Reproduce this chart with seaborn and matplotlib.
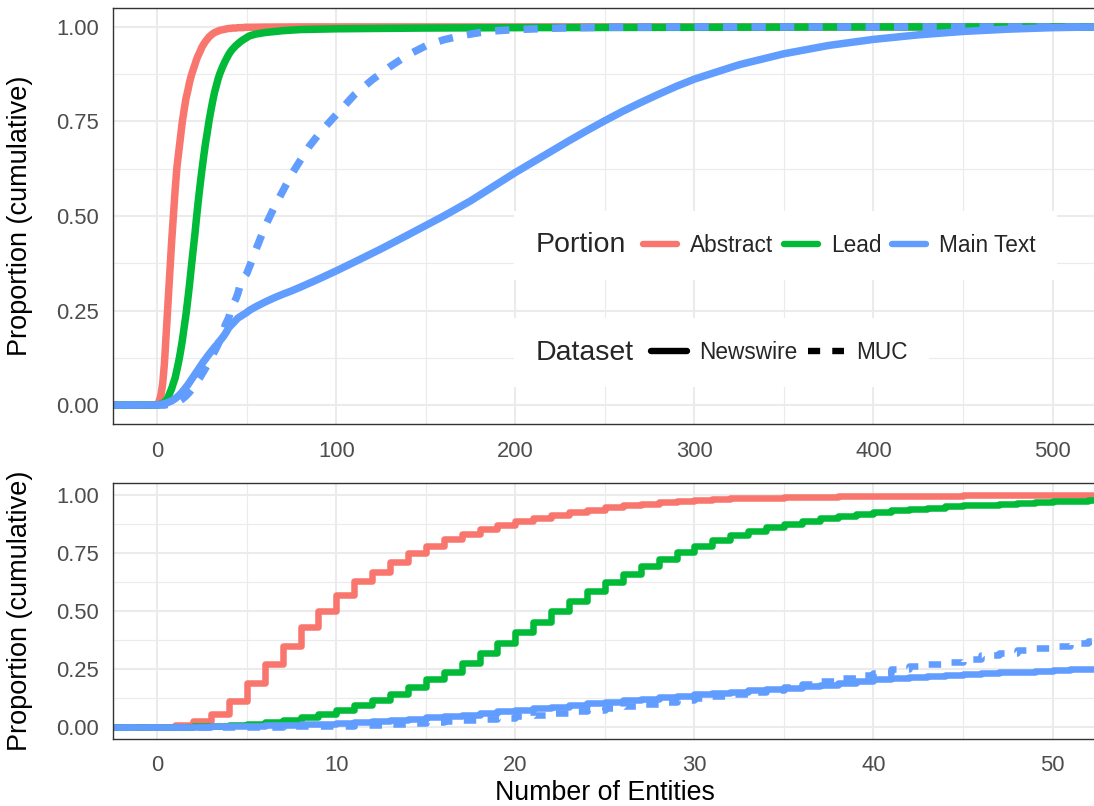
import matplotlib
matplotlib.use("Agg")
import matplotlib.pyplot as plt
import numpy as np
import pandas as pd
import seaborn as sns
from matplotlib.lines import Line2D
from matplotlib.offsetbox import HPacker
from matplotlib.ticker import MultipleLocator, FormatStrFormatter

# ---------------- data (ECDF values) ----------------
portions = ["Abstract", "Lead", "Main Text"]
datasets = ["Newswire", "MUC"]
portion_colors = ["#F8766D", "#00BA38", "#619CFF"]

# integer entity counts 0..52 (dense part shown in the lower panel)
counts = list(range(0, 53))

abstract_newswire = [0.0, 0.01, 0.025, 0.055, 0.11, 0.19, 0.27, 0.35, 0.43, 0.50,
                     0.57, 0.63, 0.67, 0.71, 0.75, 0.78, 0.81, 0.83, 0.853, 0.871,
                     0.886, 0.90, 0.915, 0.926, 0.936, 0.947, 0.955, 0.962, 0.968, 0.974,
                     0.978, 0.982, 0.985, 0.987, 0.989, 0.991, 0.992, 0.993, 0.994, 0.995,
                     0.996, 0.996, 0.997, 0.997, 0.997, 0.998, 0.998, 0.998, 0.998, 0.999,
                     0.999, 0.999, 0.999]
abstract_newswire_tail_x = [60, 80, 600]
abstract_newswire_tail_y = [0.9995, 1.0, 1.0]

lead_newswire = [0.0, 0.001, 0.003, 0.005, 0.008, 0.012, 0.02, 0.032, 0.043, 0.058,
                 0.072, 0.094, 0.116, 0.142, 0.171, 0.205, 0.238, 0.277, 0.318, 0.364,
                 0.408, 0.451, 0.499, 0.544, 0.585, 0.624, 0.66, 0.694, 0.723, 0.754,
                 0.78, 0.805, 0.827, 0.845, 0.863, 0.877, 0.889, 0.90, 0.91, 0.919,
                 0.928, 0.935, 0.941, 0.946, 0.951, 0.955, 0.959, 0.963, 0.966, 0.969,
                 0.972, 0.975, 0.977]
lead_newswire_tail_x = [55, 60, 70, 80, 100, 150, 200, 300, 400, 600]
lead_newswire_tail_y = [0.981, 0.985, 0.99, 0.993, 0.995, 0.997, 0.998, 0.999, 1.0, 1.0]

main_newswire = [0.0, 0.001, 0.002, 0.003, 0.004, 0.005, 0.007, 0.009, 0.011, 0.014,
                 0.017, 0.021, 0.025, 0.03, 0.035, 0.041, 0.047, 0.053, 0.06, 0.067,
                 0.074, 0.081, 0.088, 0.095, 0.102, 0.109, 0.116, 0.122, 0.129, 0.135,
                 0.141, 0.147, 0.153, 0.158, 0.164, 0.17, 0.176, 0.182, 0.189, 0.197,
                 0.205, 0.21, 0.215, 0.22, 0.225, 0.23, 0.233, 0.236, 0.239, 0.242,
                 0.245, 0.249, 0.252]
main_newswire_tail_x = [55, 60, 65, 70, 75, 80, 90, 100, 110, 125, 140, 150, 160, 175,
                        190, 200, 210, 220, 230, 240, 250, 260, 270, 280, 290, 300,
                        325, 350, 375, 400, 425, 450, 475, 500, 525, 600]
main_newswire_tail_y = [0.26, 0.272, 0.283, 0.293, 0.302, 0.312, 0.333, 0.355, 0.378,
                        0.413, 0.45, 0.475, 0.5, 0.54, 0.585, 0.615, 0.643, 0.671,
                        0.699, 0.726, 0.752, 0.777, 0.8, 0.822, 0.843, 0.862,
                        0.9, 0.929, 0.951, 0.967, 0.979, 0.988, 0.994, 0.998,
                        1.0, 1.0]

main_muc = [0.0, 0.0, 0.0, 0.0, 0.0, 0.001, 0.002, 0.003, 0.004, 0.005,
            0.006, 0.008, 0.01, 0.013, 0.016, 0.02, 0.024, 0.029, 0.034, 0.04,
            0.046, 0.052, 0.06, 0.067, 0.074, 0.082, 0.09, 0.098, 0.106, 0.115,
            0.124, 0.133, 0.142, 0.151, 0.161, 0.172, 0.184, 0.198, 0.212, 0.222,
            0.232, 0.252, 0.262, 0.272, 0.282, 0.295, 0.312, 0.32, 0.33, 0.342,
            0.348, 0.36, 0.372]
main_muc_tail_x = [55, 60, 65, 70, 75, 80, 85, 90, 95, 100, 110, 120, 130, 140, 150,
                   160, 170, 180, 190, 200, 225, 250, 300, 600]
main_muc_tail_y = [0.41, 0.47, 0.52, 0.565, 0.61, 0.648, 0.685, 0.715, 0.742, 0.768,
                   0.82, 0.86, 0.895, 0.926, 0.95, 0.966, 0.977, 0.985, 0.99, 0.993,
                   0.997, 0.999, 1.0, 1.0]

# ECDF padding below the smallest count
pad_x, pad_y = -50, 0.0

series = [
    ("Abstract", "Newswire", abstract_newswire, abstract_newswire_tail_x, abstract_newswire_tail_y),
    ("Lead", "Newswire", lead_newswire, lead_newswire_tail_x, lead_newswire_tail_y),
    ("Main Text", "Newswire", main_newswire, main_newswire_tail_x, main_newswire_tail_y),
    ("Main Text", "MUC", main_muc, main_muc_tail_x, main_muc_tail_y),
]
rows = []
for portion, ds, head, tx, ty in series:
    xs = [pad_x] + counts + tx
    ys = [pad_y] + head + ty
    for xv, yv in zip(xs, ys):
        rows.append({"Portion": portion, "Dataset": ds, "n": xv, "p": yv})
df = pd.DataFrame(rows)

# ---------------- styling ----------------
sns.set_style("white")
plt.rcParams["font.family"] = ["Liberation Sans", "DejaVu Sans"]

palette = dict(zip(portions, portion_colors))
dash_map = {"Newswire": "", "MUC": (1.9, 1.9)}

fig = plt.figure(figsize=(10.94, 8.06), dpi=100)
W, H = 1094.0, 806.0
left = 112.5 / W
right = 1.003
ax_top = fig.add_axes([left, 1 - 424 / H, right - left, (424 - 8) / H])
ax_bot = fig.add_axes([left, 1 - 738.6 / H, right - left, (738.6 - 483.4) / H])

sns.lineplot(data=df, x="n", y="p", hue="Portion", style="Dataset",
             hue_order=portions, style_order=datasets, palette=palette,
             dashes=dash_map, lw=5.4, estimator=None, errorbar=None,
             legend=False, ax=ax_top)
sns.lineplot(data=df, x="n", y="p", hue="Portion", style="Dataset",
             hue_order=portions, style_order=datasets, palette=palette,
             dashes=dash_map, lw=4.7, estimator=None, errorbar=None,
             legend=False, ax=ax_bot, drawstyle="steps-post")

grid_col = "#EBEBEB"
for ax in (ax_top, ax_bot):
    ax.set_facecolor("white")
    ax.set_axisbelow(True)
    ax.grid(which="major", color=grid_col, lw=1.5)
    ax.grid(which="minor", color=grid_col, lw=0.8)
    for s in ax.spines.values():
        s.set_color("#333333")
        s.set_linewidth(1.0)
    ax.set_ylim(-0.05, 1.05)
    ax.yaxis.set_major_locator(MultipleLocator(0.25))
    ax.yaxis.set_minor_locator(MultipleLocator(0.125))
    ax.yaxis.set_major_formatter(FormatStrFormatter("%.2f"))
    ax.tick_params(which="major", length=5.5, width=1.1, color="#333333",
                   labelcolor="#4D4D4D", labelsize=15.8)
    ax.tick_params(axis="y", which="major", pad=4.0)
    ax.tick_params(axis="x", which="major", pad=6.5)
    ax.tick_params(which="minor", length=0)
    ax.set_ylabel("Proportion (cumulative)", fontsize=19.5, color="black")
    ax.yaxis.set_label_coords(-0.0805, 0.5)

ax_top.set_xlim(-25, 525)
ax_top.xaxis.set_major_locator(MultipleLocator(100))
ax_top.xaxis.set_minor_locator(MultipleLocator(50))
ax_top.set_xlabel("")

ax_bot.set_xlim(-2.5, 52.5)
ax_bot.xaxis.set_major_locator(MultipleLocator(10))
ax_bot.xaxis.set_minor_locator(MultipleLocator(5))
ax_bot.set_xlabel("Number of Entities", fontsize=19.3, color="black")
ax_bot.xaxis.set_label_coords(0.5, -0.163)


def title_left(leg, fig, sep):
    box = leg.get_children()[0]
    title_box, handle_box = box.get_children()[0], box.get_children()[1]
    hp = HPacker(children=[title_box, handle_box], align="center", pad=0, sep=sep)
    hp.set_figure(fig)
    box._children = [hp]


h1 = [Line2D([], [], color=c, lw=4.6) for c in portion_colors]
leg1 = ax_top.legend(h1, portions, title="Portion", loc="center left",
                     bbox_to_anchor=(0.408, 0.43), ncol=3, frameon=True, fancybox=False,
                     fontsize=16.3, title_fontsize=20.5, handlelength=1.5,
                     handletextpad=0.6, columnspacing=0.45, borderpad=0.95,
                     borderaxespad=0)
leg1.get_frame().set_facecolor("white")
leg1.get_frame().set_edgecolor("none")
leg1.get_frame().set_alpha(1)
title_left(leg1, fig, 12)
ax_top.add_artist(leg1)

h2 = [Line2D([], [], color="black", lw=4.6),
      Line2D([], [], color="black", lw=4.6, dashes=(1.9, 1.9))]
leg2 = ax_top.legend(h2, datasets, title="Dataset", loc="center left",
                     bbox_to_anchor=(0.408, 0.171), ncol=2, frameon=True, fancybox=False,
                     fontsize=16.3, title_fontsize=20.5, handlelength=1.6,
                     handletextpad=0.55, columnspacing=0.45, borderpad=0.95,
                     borderaxespad=0)
leg2.get_frame().set_facecolor("white")
leg2.get_frame().set_edgecolor("none")
leg2.get_frame().set_alpha(1)
title_left(leg2, fig, 12)

fig.savefig("out.png", dpi=100, facecolor="white")
